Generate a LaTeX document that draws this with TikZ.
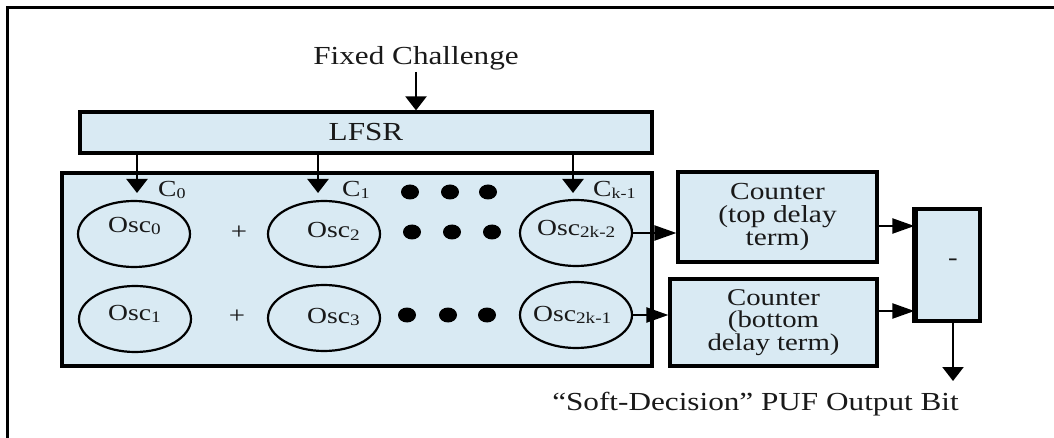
\documentclass[tikz,border=0pt]{standalone}
\usepackage{fontspec}
\setmainfont{Liberation Serif}[FakeStretch=1.2]
\usetikzlibrary{arrows.meta,shapes.geometric}
\definecolor{panel}{RGB}{217,234,243}
\definecolor{ink}{RGB}{25,25,25}
% small, slightly lowered index used in the oscillator and challenge labels
\newcommand{\lowsub}[2][16]{\raisebox{-2pt}{\fontsize{#1}{#1}\selectfont #2}}

\begin{document}
\begin{tikzpicture}[x=1pt,y=-1pt,
  blockbox/.style={draw=black, fill=panel, line width=3.2pt, inner sep=0pt, text=ink},
  osc/.style={ellipse, draw=black, line width=2.2pt, minimum width=112pt, minimum height=66pt, inner sep=0pt},
  txt/.style={text=ink, inner sep=1pt, font=\fontsize{26}{26}\selectfont},
  osctxt/.style={text=ink, inner sep=0pt, anchor=base west, font=\fontsize{23}{23}\selectfont},
  ctxt/.style={text=ink, inner sep=0pt, anchor=base west, font=\fontsize{23}{23}\selectfont},
  varrow/.style={-{Triangle[length=14pt,width=21pt]}, line width=2.2pt},
  harrow/.style={-{Triangle[length=22pt,width=15pt]}, line width=2.2pt},
  bigdot/.style={fill=black, x radius=9pt, y radius=7.5pt}
]
\useasboundingbox (0,0) rectangle (1054,438);
\fill[white] (0,0) rectangle (1054,438);

% outer frame (top and left edges)
\draw[line width=3pt] (7,438) -- (7,8) -- (1054,8);

% challenge input and LFSR
\node[txt, anchor=base] (fc) at (416,65) {Fixed Challenge};
\node[blockbox, minimum width=572pt, minimum height=41pt, font=\fontsize{26}{26}\selectfont] (lfsr) at (366,132.5) {LFSR};
\draw[varrow] (fc.south) -- (fc.south |- lfsr.north);

% oscillator array
\node[blockbox, minimum width=590pt, minimum height=193pt] (array) at (357,269.5) {};

\coordinate (c0tip) at (137,193);
\coordinate (c1tip) at (318,193);
\coordinate (cktip) at (573,193);
\draw[varrow] (c0tip |- lfsr.south) -- (c0tip);
\draw[varrow] (c1tip |- lfsr.south) -- (c1tip);
\draw[varrow] (cktip |- lfsr.south) -- (cktip);

\node[ctxt] (c0) at (158,197) {C\lowsub[15]{0}};
\node[ctxt] (c1) at (342,197) {C\lowsub[15]{1}};
\node[ctxt] (ck) at (593,197) {C\lowsub[15]{k-1}};

\node[osc] (osc0) at (134,234) {};
\node[osc] (osc2) at (324,234) {};
\node[osc] (osc2k2) at (576,233) {};
\node[osc] (osc1) at (135,319) {};
\node[osc] (osc3) at (324,318) {};
\node[osc] (osc2k1) at (576,315) {};

\node[osctxt] (l0) at (108,233) {Osc\lowsub{0}};
\node[osctxt] (l2) at (307,238) {Osc\lowsub{2}};
\node[osctxt] (l2k2) at (537,236) {Osc\lowsub{2k-2}};
\node[osctxt] (l1) at (108,320) {Osc\lowsub{1}};
\node[osctxt] (l3) at (307,323) {Osc\lowsub{3}};
\node[osctxt] (l2k1) at (533,321) {Osc\lowsub{2k-1}};

\node[txt, font=\fontsize{24}{24}\selectfont] (plus1) at (239,233) {+};
\node[txt, font=\fontsize{24}{24}\selectfont] (plus2) at (237,317) {+};

% continuation dots
\fill[bigdot] (410,192) ellipse [];
\fill[bigdot] (450,192) ellipse [];
\fill[bigdot] (488,192) ellipse [];
\fill[bigdot] (412,232) ellipse [];
\fill[bigdot] (452,232) ellipse [];
\fill[bigdot] (492,232) ellipse [];
\fill[bigdot] (407,315) ellipse [];
\fill[bigdot] (448,315) ellipse [];
\fill[bigdot] (487,315) ellipse [];

% counters and subtractor
\node[blockbox, minimum width=199pt, minimum height=90pt, align=center, font=\fontsize{24.5}{23}\selectfont] (ctop) at (777.5,217) {Counter\\(top delay\\term)};
\node[blockbox, minimum width=207pt, minimum height=87pt, align=center, font=\fontsize{24}{22.5}\selectfont] (cbot) at (773.5,322.5) {Counter\\(bottom\\delay term)};
\node[blockbox, minimum width=64pt, minimum height=112pt] (minus) at (948,265) {};
\draw[line width=5pt] (minus.north west) -- (minus.south west);
\node[txt, font=\fontsize{24}{24}\selectfont] (minuslabel) at (953,262) {-};

\draw[harrow] (osc2k2.east) -- (osc2k2.east -| ctop.west);
\draw[harrow] (osc2k1.east) -- (osc2k1.east -| cbot.west);
\draw[harrow] ([yshift=-9pt]ctop.east) -- ([yshift=-9pt]ctop.east -| minus.west);
\draw[harrow] ([yshift=11.5pt]cbot.east) -- ([yshift=11.5pt]cbot.east -| minus.west);

% output
\coordinate (outtip) at (953,381);
\draw[varrow] (outtip |- minus.south) -- (outtip);
\node[txt, anchor=base] (out) at (755.5,410) {``Soft-Decision'' PUF Output Bit};
\end{tikzpicture}
\end{document}
